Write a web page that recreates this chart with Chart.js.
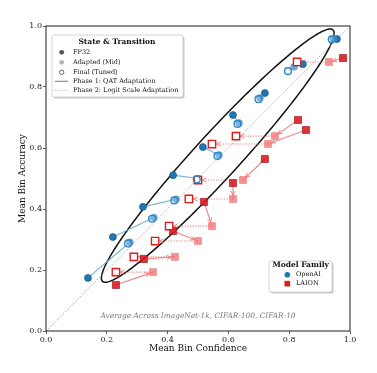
<!DOCTYPE html>
<html>
<head>
<meta charset="utf-8">
<script src="https://cdn.jsdelivr.net/npm/chart.js@4.4.1/dist/chart.umd.min.js"></script>
<style>
  html, body { margin: 0; padding: 0; background: #fff; }
</style>
</head>
<body>
<canvas id="calib" width="377" height="373"></canvas>
<script>
// OpenAI models: FP32 -> adapted (mid) -> final (tuned)
const openaiFp32Conf  = [0.138, 0.220, 0.319, 0.418, 0.516, 0.615, 0.720, 0.845, 0.957];
const openaiFp32Acc   = [0.174, 0.308, 0.407, 0.511, 0.603, 0.708, 0.780, 0.875, 0.957];
const openaiMidConf   = [0.276, 0.355, 0.428, 0.500, 0.569, 0.635, 0.704, 0.816, 0.945];
const openaiMidAcc    = [0.291, 0.372, 0.432, 0.500, 0.577, 0.682, 0.764, 0.866, 0.958];
const openaiFinalConf = [0.270, 0.349, 0.422, 0.496, 0.564, 0.630, 0.699, 0.796, 0.940];
const openaiFinalAcc  = [0.287, 0.368, 0.428, 0.497, 0.574, 0.679, 0.760, 0.852, 0.956];

// LAION models
const laionFp32Conf  = [0.230, 0.322, 0.418, 0.520, 0.615, 0.720, 0.855, 0.829, 0.977];
const laionFp32Acc   = [0.151, 0.236, 0.328, 0.423, 0.485, 0.564, 0.659, 0.692, 0.895];
const laionMidConf   = [0.352, 0.424, 0.500, 0.546, 0.615, 0.648, 0.730, 0.753, 0.931];
const laionMidAcc    = [0.193, 0.243, 0.295, 0.344, 0.433, 0.495, 0.613, 0.639, 0.882];
const laionFinalConf = [0.230, 0.289, 0.359, 0.405, 0.470, 0.500, 0.546, 0.625, 0.826];
const laionFinalAcc  = [0.193, 0.243, 0.295, 0.344, 0.433, 0.495, 0.613, 0.639, 0.882];

const tickValues = [0.0, 0.2, 0.4, 0.6, 0.8, 1.0];

// highlight ellipse (data units): center, semi axes, angle in degrees
const ellipseCenter = [0.565, 0.575];
const ellipseAxes = [0.56, 0.073];
const ellipseAngle = 47.4;

const FONT = "'DejaVu Serif', 'Liberation Serif', serif";
const BLUE = "#1f77b4";
const BLUE_LINE = "rgba(107,174,214,0.95)";
const RED = "#e31a1c";
const RED_LINE = "rgba(240,110,110,0.85)";

const pts = (xs, ys) => xs.map((x, i) => ({ x: x, y: ys[i] }));

const segments = [];
const addSegs = (x1, y1, x2, y2, color, dash) => {
  x1.forEach((_, i) => {
    segments.push({
      type: "line",
      data: [{ x: x1[i], y: y1[i] }, { x: x2[i], y: y2[i] }],
      borderColor: color,
      borderWidth: 1.1,
      borderDash: dash,
      pointRadius: 0,
      order: 8,
    });
  });
};
addSegs(openaiFp32Conf, openaiFp32Acc, openaiMidConf, openaiMidAcc, BLUE_LINE, []);
addSegs(openaiMidConf, openaiMidAcc, openaiFinalConf, openaiFinalAcc, BLUE_LINE, [1.2, 1.4]);
addSegs(laionFp32Conf, laionFp32Acc, laionMidConf, laionMidAcc, RED_LINE, []);
addSegs(laionMidConf, laionMidAcc, laionFinalConf, laionFinalAcc, RED_LINE, [1.2, 1.4]);

function arrowHead(ctx, x1, y1, x2, y2, gap) {
  const ang = Math.atan2(y2 - y1, x2 - x1);
  const len = Math.hypot(x2 - x1, y2 - y1);
  if (len < gap + 2) return;
  const tx = x2 - Math.cos(ang) * gap;
  const ty = y2 - Math.sin(ang) * gap;
  const h = 4, w = 2.2;
  ctx.beginPath();
  ctx.moveTo(tx - Math.cos(ang) * h - Math.sin(ang) * w, ty - Math.sin(ang) * h + Math.cos(ang) * w);
  ctx.lineTo(tx, ty);
  ctx.lineTo(tx - Math.cos(ang) * h + Math.sin(ang) * w, ty - Math.sin(ang) * h - Math.cos(ang) * w);
  ctx.stroke();
}

const decor = {
  id: "decor",
  beforeDatasetsDraw(chart) {
    const ctx = chart.ctx;
    const xs = chart.scales.x, ys = chart.scales.y;
    const area = chart.chartArea;
    ctx.save();
    ctx.beginPath();
    ctx.rect(area.left, area.top, area.right - area.left, area.bottom - area.top);
    ctx.clip();
    // ellipse
    const th = ellipseAngle * Math.PI / 180;
    ctx.beginPath();
    for (let k = 0; k <= 200; k++) {
      const t = k / 200 * Math.PI * 2;
      const u = ellipseAxes[0] * Math.cos(t), v = ellipseAxes[1] * Math.sin(t);
      const px = xs.getPixelForValue(ellipseCenter[0] + u * Math.cos(th) - v * Math.sin(th));
      const py = ys.getPixelForValue(ellipseCenter[1] + u * Math.sin(th) + v * Math.cos(th));
      if (k === 0) ctx.moveTo(px, py); else ctx.lineTo(px, py);
    }
    ctx.strokeStyle = "#111";
    ctx.lineWidth = 1.5;
    ctx.stroke();
    // arrow heads on LAION transitions
    ctx.strokeStyle = RED_LINE;
    ctx.lineWidth = 1;
    laionFp32Conf.forEach((_, i) => {
      const a = [xs.getPixelForValue(laionFp32Conf[i]), ys.getPixelForValue(laionFp32Acc[i])];
      const m = [xs.getPixelForValue(laionMidConf[i]), ys.getPixelForValue(laionMidAcc[i])];
      const f = [xs.getPixelForValue(laionFinalConf[i]), ys.getPixelForValue(laionFinalAcc[i])];
      arrowHead(ctx, a[0], a[1], m[0], m[1], 4);
      arrowHead(ctx, m[0], m[1], f[0], f[1], 4.5);
    });
    ctx.restore();
  },
  afterDraw(chart) {
    const ctx = chart.ctx;
    const area = chart.chartArea;
    ctx.save();
    // frame
    ctx.strokeStyle = "#444";
    ctx.lineWidth = 1.2;
    ctx.strokeRect(area.left, area.top, area.right - area.left, area.bottom - area.top);

    // note
    ctx.fillStyle = "#777";
    ctx.font = "italic 7.4px " + FONT;
    ctx.textAlign = "center";
    ctx.textBaseline = "middle";
    ctx.fillText("Average Across ImageNet-1k, CIFAR-100, CIFAR-10", 198, 316.5);

    const box = (x, y, w, h) => {
      ctx.fillStyle = "rgba(0,0,0,0.22)";
      ctx.beginPath(); ctx.roundRect(x + 1.5, y + 1.5, w, h, 2); ctx.fill();
      ctx.fillStyle = "#fff";
      ctx.strokeStyle = "#ccc";
      ctx.lineWidth = 0.8;
      ctx.beginPath(); ctx.roundRect(x, y, w, h, 2); ctx.fill(); ctx.stroke();
    };

    // legend 1: state & transition
    box(52, 35, 131, 62);
    ctx.fillStyle = "#111";
    ctx.font = "bold 7.5px " + FONT;
    ctx.textAlign = "center";
    ctx.fillText("State & Transition", 117, 42.5);
    ctx.font = "6.5px " + FONT;
    ctx.textAlign = "left";
    const rows = [52.3, 62.3, 72.3, 81.3, 90.3];
    const labels = ["FP32", "Adapted (Mid)", "Final (Tuned)", "Phase 1: QAT Adaptation", "Phase 2: Logit Scale Adaptation"];
    labels.forEach((t, i) => { ctx.fillStyle = "#111"; ctx.fillText(t, 73, rows[i]); });
    ctx.fillStyle = "#555";
    ctx.beginPath(); ctx.arc(61.7, rows[0], 2.4, 0, Math.PI * 2); ctx.fill();
    ctx.fillStyle = "#b5b5b5";
    ctx.beginPath(); ctx.arc(61.7, rows[1], 2.4, 0, Math.PI * 2); ctx.fill();
    ctx.strokeStyle = "#555"; ctx.lineWidth = 0.9;
    ctx.beginPath(); ctx.arc(61.7, rows[2], 2.2, 0, Math.PI * 2); ctx.stroke();
    ctx.strokeStyle = "#666"; ctx.lineWidth = 0.9;
    ctx.beginPath(); ctx.moveTo(55, rows[3]); ctx.lineTo(68, rows[3]); ctx.stroke();
    ctx.strokeStyle = "#aaa"; ctx.setLineDash([1, 1.2]);
    ctx.beginPath(); ctx.moveTo(55, rows[4]); ctx.lineTo(68, rows[4]); ctx.stroke();
    ctx.setLineDash([]);

    // legend 2: model family
    box(269, 261, 63, 31);
    ctx.fillStyle = "#111";
    ctx.font = "bold 7.5px " + FONT;
    ctx.textAlign = "center";
    ctx.fillText("Model Family", 300.7, 265.5);
    ctx.font = "6.5px " + FONT;
    ctx.textAlign = "left";
    ctx.fillText("OpenAI", 296, 274.7);
    ctx.fillText("LAION", 296, 283.7);
    ctx.fillStyle = BLUE;
    ctx.beginPath(); ctx.arc(287.3, 274.7, 2.8, 0, Math.PI * 2); ctx.fill();
    ctx.fillStyle = RED;
    ctx.fillRect(284.5, 280.9, 5.6, 5.6);
    ctx.restore();
  },
};

const tickFont = { family: FONT, size: 8 };

new Chart(document.getElementById("calib"), {
  type: "scatter",
  data: {
    datasets: [
      {
        label: "OpenAI final",
        data: pts(openaiFinalConf, openaiFinalAcc),
        pointStyle: "circle",
        pointRadius: 3.4,
        backgroundColor: "rgba(255,255,255,0.15)",
        borderColor: "#2f86c6",
        borderWidth: 1.4,
        order: 1,
      },
      {
        label: "LAION final",
        data: pts(laionFinalConf, laionFinalAcc),
        pointStyle: "rect",
        pointRadius: 5.2,
        backgroundColor: "#fff",
        borderColor: RED,
        borderWidth: 1.4,
        order: 1,
      },
      {
        label: "OpenAI mid",
        data: pts(openaiMidConf, openaiMidAcc),
        pointStyle: "circle",
        pointRadius: 3.4,
        backgroundColor: "rgba(70,145,205,0.75)",
        borderColor: "rgba(60,135,195,0.9)",
        borderWidth: 0.6,
        order: 2,
      },
      {
        label: "LAION mid",
        data: pts(laionMidConf, laionMidAcc),
        pointStyle: "rect",
        pointRadius: 5,
        backgroundColor: "rgba(242,120,120,0.8)",
        borderColor: "rgba(240,120,120,0.9)",
        borderWidth: 0.6,
        order: 2,
      },
      {
        label: "OpenAI FP32",
        data: pts(openaiFp32Conf, openaiFp32Acc),
        pointStyle: "circle",
        pointRadius: 3.5,
        backgroundColor: BLUE,
        borderColor: "#174f7a",
        borderWidth: 0.6,
        order: 3,
      },
      {
        label: "LAION FP32",
        data: pts(laionFp32Conf, laionFp32Acc),
        pointStyle: "rect",
        pointRadius: 5,
        backgroundColor: "rgba(220,24,30,0.88)",
        borderColor: "#8b0f14",
        borderWidth: 0.6,
        order: 3,
      },
      ...segments,
      {
        type: "line",
        label: "diagonal",
        data: [{ x: 0, y: 0 }, { x: 1, y: 1 }],
        borderColor: "#999",
        borderWidth: 0.8,
        borderDash: [1.5, 1.5],
        pointRadius: 0,
        order: 20,
      },
    ],
  },
  options: {
    responsive: false,
    animation: false,
    layout: { padding: { left: 0, top: 26, right: 27, bottom: 0 } },
    plugins: { legend: { display: false }, tooltip: { enabled: false } },
    scales: {
      x: {
        type: "linear",
        min: 0,
        max: 1,
        afterFit: (s) => { s.height = 42; },
        afterBuildTicks: (s) => { s.ticks = tickValues.map((v) => ({ value: v })); },
        ticks: { callback: (v) => v.toFixed(1), font: tickFont, color: "#222", padding: 1, maxRotation: 0 },
        grid: { display: true, drawOnChartArea: false, tickLength: 3, color: "#333", lineWidth: 0.8 },
        border: { display: false },
        title: { display: true, text: "Mean Bin Confidence", font: { family: FONT, size: 9 }, color: "#111", padding: { top: 0, bottom: 19 } },
      },
      y: {
        type: "linear",
        min: 0,
        max: 1,
        afterFit: (s) => { s.width = 46; },
        afterBuildTicks: (s) => { s.ticks = tickValues.map((v) => ({ value: v })); },
        ticks: { callback: (v) => v.toFixed(1), font: tickFont, color: "#222", padding: 1 },
        grid: { display: true, drawOnChartArea: false, tickLength: 3, color: "#333", lineWidth: 0.8 },
        border: { display: false },
        title: { display: true, text: "Mean Bin Accuracy", font: { family: FONT, size: 9 }, color: "#111", padding: { top: 17, bottom: 0 } },
      },
    },
  },
  plugins: [decor],
});
</script>
</body>
</html>
